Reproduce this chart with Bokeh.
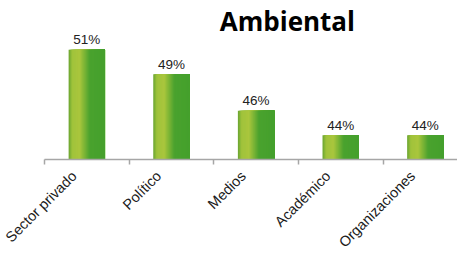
import math
from bokeh.plotting import figure
from bokeh.models import Range1d, FixedTicker, ColumnDataSource
from bokeh.core.properties import value
from bokeh.embed import file_html
from bokeh.resources import INLINE

# ---- data ----
categories = ["Sector privado", "Político", "Medios", "Académico", "Organizaciones"]
values = [51, 49, 46, 44, 44]
value_labels = ["51%", "49%", "46%", "44%", "44%"]
title_text = "Ambiental"

# ---- layout constants ----
BASE = 42.0       # value at the axis line
TOP = 55.05       # value at the top of the frame
BAR_W = 0.43      # bar width in category units
N_STRIPS = 36
LABEL_SHIFT = 0.15

centers = [i + 0.5 for i in range(len(categories))]

p = figure(width=457, height=259, output_backend="svg", toolbar_location=None,
           x_range=Range1d(0, 4.88), y_range=Range1d(BASE, TOP),
           min_border_left=44, min_border_right=0, min_border_top=0,
           min_border_bottom=97)
p.outline_line_color = None
p.background_fill_color = "white"
p.border_fill_color = "white"
p.xgrid.visible = False
p.ygrid.visible = False
p.yaxis.visible = False

# gradient fill emulated with overlapping vertical strips
stops = [(0.0, (0x68, 0xa4, 0x31)), (0.10, (0xa0, 0xc3, 0x3b)), (0.30, (0xaa, 0xc6, 0x3d)),
         (0.58, (0x4a, 0xa2, 0x2e)), (1.0, (0x45, 0xa0, 0x2d))]


def grad(t):
    for (t0, c0), (t1, c1) in zip(stops[:-1], stops[1:]):
        if t0 <= t <= t1:
            f = (t - t0) / (t1 - t0)
            return "#%02x%02x%02x" % tuple(int(round(a + (b - a) * f)) for a, b in zip(c0, c1))
    return "#%02x%02x%02x" % stops[-1][1]


lefts, rights, tops, cols = [], [], [], []
sw = BAR_W / N_STRIPS
for c, v in zip(centers, values):
    for k in range(N_STRIPS):
        t = (k + 0.5) / N_STRIPS
        lefts.append(c - BAR_W / 2 + k * sw)
        rights.append(c + BAR_W / 2)
        tops.append(v)
        cols.append(grad(t))
src = ColumnDataSource(dict(left=lefts, right=rights, top=tops, color=cols))
p.quad(left="left", right="right", top="top", bottom=BASE, fill_color="color",
       line_color=None, source=src)

# value labels
lsrc = ColumnDataSource(dict(x=centers, y=values, t=value_labels))
p.text(x="x", y="y", text="t", source=lsrc, text_align="center",
       text_baseline="alphabetic", y_offset=-10,
       text_font=value("Liberation Sans"), text_font_size="13.5px", text_color="#222222")

# title
p.text(x=[2.87], y=[53.4], text=[title_text], text_align="center",
       text_baseline="alphabetic", text_font=value("Open Sans"),
       text_font_style="bold", text_font_size="26px", text_color="#000000")

# axis
ax = p.xaxis[0]
label_pos = [c - LABEL_SHIFT for c in centers]
ax.ticker = FixedTicker(ticks=label_pos, minor_ticks=[0, 1, 2, 3, 4, 5])
ax.major_label_overrides = {c: n for c, n in zip(label_pos, categories)}
ax.major_label_orientation = math.pi / 4
ax.major_tick_out = 0
ax.major_tick_in = 0
ax.minor_tick_out = 5
ax.minor_tick_in = 0
ax.minor_tick_line_color = "#a6a6a6"
ax.axis_line_color = "#a6a6a6"
ax.axis_line_width = 1.5
ax.minor_tick_line_width = 1.5
ax.major_label_standoff = 9
ax.major_label_text_font = "Liberation Sans"
ax.major_label_text_font_size = "14.5px"
ax.major_label_text_color = "#1a1a1a"

open("out.html", "w").write(file_html(p, INLINE))
